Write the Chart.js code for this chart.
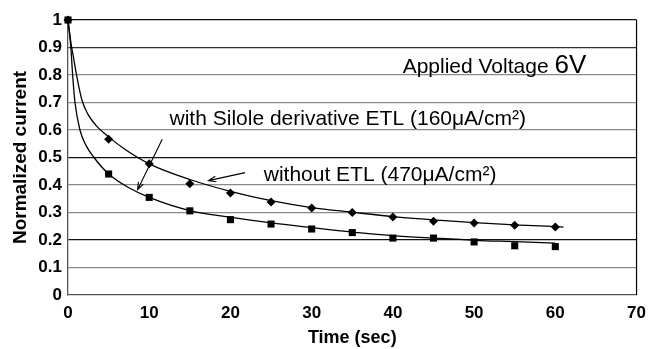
<!DOCTYPE html>
<html>
<head>
<meta charset="utf-8">
<script src="https://cdn.jsdelivr.net/npm/chart.js@4/dist/chart.umd.min.js"></script>
<style>
  html, body { margin: 0; padding: 0; background: #fff; }
  #wrap { width: 654px; height: 349px; }
</style>
</head>
<body>
<div id="wrap"><canvas id="decayChart" width="654" height="349"></canvas></div>
<script>
// measured points (time in sec, normalized current)
const measTime = [0, 5, 10, 15, 20, 25, 30, 35, 40, 45, 50, 55, 60];
const siloleCurrent = [1.0, 0.566, 0.477, 0.405, 0.371, 0.338, 0.316, 0.300, 0.284, 0.268, 0.262, 0.254, 0.247];
const noEtlCurrent = [1.0, 0.44, 0.355, 0.306, 0.274, 0.258, 0.240, 0.227, 0.207, 0.207, 0.193, 0.179, 0.176];

// fitted curves
const siloleFitTime = [0, 0.4, 0.7, 1.05, 1.7, 2.5, 3.5, 5, 7, 10, 15, 20, 25, 30, 35, 40, 45, 50, 55, 60, 61];
const siloleFitCurrent = [1.0, 0.91, 0.86, 0.80, 0.71, 0.655, 0.615, 0.575, 0.53, 0.477, 0.42, 0.377, 0.343, 0.318, 0.301, 0.285, 0.273, 0.263, 0.255, 0.249, 0.247];
const noEtlFitTime = [0, 0.35, 0.57, 0.86, 1.47, 2.2, 3.2, 5, 7.5, 10, 15, 20, 25, 30, 35, 40, 45, 50, 55, 60];
const noEtlFitCurrent = [1.0, 0.90, 0.80, 0.70, 0.60, 0.545, 0.50, 0.44, 0.39, 0.355, 0.307, 0.283, 0.262, 0.245, 0.229, 0.216, 0.207, 0.199, 0.194, 0.189];

const xTicks = [0, 10, 20, 30, 40, 50, 60, 70];
const yTicks = [0, 0.1, 0.2, 0.3, 0.4, 0.5, 0.6, 0.7, 0.8, 0.9, 1];

function pairs(xs, ys) {
    return xs.map((x, i) => ({ x: x, y: ys[i] }));
}

const FONT = "'Liberation Sans', Arial, sans-serif";

// labels and arrows on the plot
const notesPlugin = {
    id: 'notes',
    afterDatasetsDraw(chart) {
        const ctx = chart.ctx;
        const xs = chart.scales.x, ys = chart.scales.y;
        const px = v => xs.getPixelForValue(v);
        const py = v => ys.getPixelForValue(v);
        const area = chart.chartArea;

        ctx.save();
        // right frame line
        ctx.strokeStyle = '#000';
        ctx.lineWidth = 1.2;
        ctx.beginPath();
        ctx.moveTo(area.right, area.top);
        ctx.lineTo(area.right, area.bottom);
        ctx.stroke();

        ctx.fillStyle = '#000';
        ctx.textBaseline = 'alphabetic';
        ctx.textAlign = 'left';

        ctx.font = '21px ' + FONT;
        const t1 = 'Applied Voltage ';
        ctx.fillText(t1, px(41.2), py(0.807));
        const w1 = ctx.measureText(t1).width;
        ctx.font = '26px ' + FONT;
        ctx.fillText('6V', px(41.2) + w1, py(0.807));

        ctx.font = '21px ' + FONT;
        ctx.fillText('with Silole derivative ETL (160\u03bcA/cm\u00b2)', px(12.5), py(0.62));
        ctx.fillText('without ETL (470\u03bcA/cm\u00b2)', px(24.1), py(0.413));

        function arrow(x0, y0, x1, y1) {
            const ax = px(x0), ay = py(y0), bx = px(x1), by = py(y1);
            const ang = Math.atan2(by - ay, bx - ax);
            const len = 8;
            ctx.lineWidth = 1.1;
            ctx.beginPath();
            ctx.moveTo(ax, ay);
            ctx.lineTo(bx, by);
            ctx.moveTo(bx - len * Math.cos(ang - 0.35), by - len * Math.sin(ang - 0.35));
            ctx.lineTo(bx, by);
            ctx.lineTo(bx - len * Math.cos(ang + 0.35), by - len * Math.sin(ang + 0.35));
            ctx.stroke();
        }
        arrow(11.6, 0.566, 8.57, 0.383);
        arrow(21.8, 0.445, 17.3, 0.416);
        ctx.restore();
    }
};

const ctx = document.getElementById('decayChart').getContext('2d');
new Chart(ctx, {
    type: 'scatter',
    data: {
        datasets: [
            {
                label: 'with Silole fit',
                data: pairs(siloleFitTime, siloleFitCurrent),
                showLine: true,
                borderColor: '#000',
                borderWidth: 1.3,
                pointRadius: 0,
                cubicInterpolationMode: 'monotone'
            },
            {
                label: 'without ETL fit',
                data: pairs(noEtlFitTime, noEtlFitCurrent),
                showLine: true,
                borderColor: '#000',
                borderWidth: 1.3,
                pointRadius: 0,
                cubicInterpolationMode: 'monotone'
            },
            {
                label: 'with Silole derivative ETL',
                data: pairs(measTime, siloleCurrent),
                pointStyle: 'rectRot',
                pointRadius: 4.5,
                backgroundColor: '#000',
                borderColor: '#000',
                borderWidth: 0,
                clip: false
            },
            {
                label: 'without ETL',
                data: pairs(measTime, noEtlCurrent),
                pointStyle: 'rect',
                pointRadius: 5,
                backgroundColor: '#000',
                borderColor: '#000',
                borderWidth: 0,
                clip: false
            }
        ]
    },
    options: {
        responsive: false,
        animation: false,
        layout: { padding: { left: 0, right: 14, top: 20, bottom: 0 } },
        plugins: {
            legend: { display: false },
            tooltip: { enabled: false }
        },
        scales: {
            x: {
                type: 'linear',
                min: 0,
                max: 70,
                afterBuildTicks: s => { s.ticks = xTicks.map(v => ({ value: v })); },
                grid: { display: false, drawTicks: false },
                border: { display: true, color: '#555', width: 1.3 },
                ticks: { color: '#000', padding: 8, font: { family: FONT, size: 17, weight: 'bold' } },
                title: {
                    display: true,
                    text: 'Time (sec)',
                    color: '#000',
                    padding: { top: 0, bottom: 0 },
                    font: { family: FONT, size: 18, weight: 'bold' }
                },
                afterFit: s => { s.height = 54; }
            },
            y: {
                type: 'linear',
                min: 0,
                max: 1,
                afterBuildTicks: s => { s.ticks = yTicks.map(v => ({ value: v })); },
                grid: {
                    drawTicks: false,
                    lineWidth: 1.2,
                    color: c => {
                        const v = Math.round(c.tick.value * 10);
                        if (v === 0) return 'rgba(0,0,0,0)';
                        if (v === 10 || v === 5 || v === 2) return '#111';
                        if (v === 9) return '#333';
                        return '#8a8a8a';
                    }
                },
                border: { display: true, color: '#555', width: 1.3 },
                ticks: {
                    color: '#000',
                    padding: 6,
                    font: { family: FONT, size: 17, weight: 'bold' },
                    callback: v => (v === 0 || v === 1) ? String(v) : v.toFixed(1)
                },
                title: {
                    display: true,
                    text: 'Normalized current',
                    color: '#000',
                    padding: { top: 9, bottom: 0 },
                    font: { family: FONT, size: 19, weight: 'bold' }
                },
                afterFit: s => { s.width = 68; }
            }
        }
    },
    plugins: [notesPlugin]
});
</script>
</body>
</html>
